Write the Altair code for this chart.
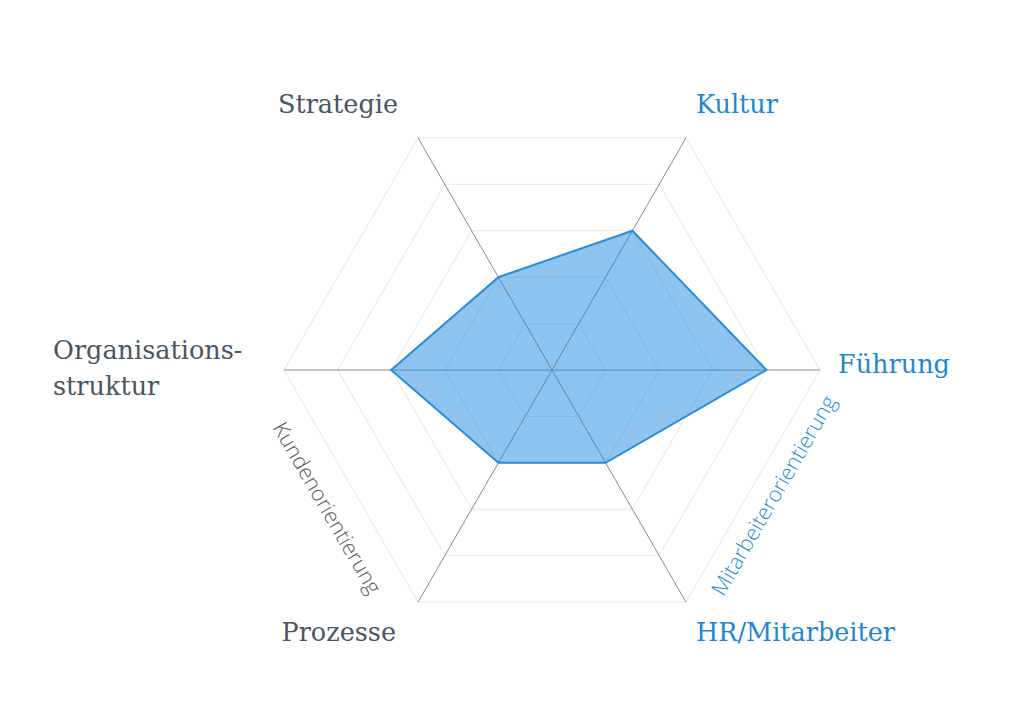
import altair as alt
import pandas as pd
import numpy as np

# ---- data ----
categories = ["Führung", "Kultur", "Strategie", "Organisations-\nstruktur", "Prozesse", "HR/Mitarbeiter"]
values = [4, 3, 2, 3, 2, 2]
angles_deg = [0, 60, 120, 180, 240, 300]
label_colors = ["#1e87cf", "#1e87cf", "#4a5661", "#4a5661", "#4a5661", "#1e87cf"]
grid_levels = [1, 2, 3, 4, 5]
max_value = 5
group_labels = ["Kundenorientierung", "Mitarbeiterorientierung"]
group_angles = [211.5, 330.5]
group_radius = [4.95, 4.78]
group_rot = [60, 300]
group_colors = ["#555d66", "#2a8fd6"]

# ---- geometry (scale) ----
PX = 53.6
W, H = 1000, 690
CX, CY = 544, 362
xdom = [-CX / PX, (W - CX) / PX]
ydom = [-(H - CY) / PX, CY / PX]
xs = alt.Scale(domain=xdom, nice=False, zero=False)
ys = alt.Scale(domain=ydom, nice=False, zero=False)
rad = np.radians(angles_deg)

grid = pd.DataFrame([
    {"level": lv, "i": i, "x": lv * np.cos(a), "y": lv * np.sin(a)}
    for lv in grid_levels for i, a in enumerate(rad)
])
spokes = pd.DataFrame({
    "x0": [0.0] * 6, "y0": [0.0] * 6,
    "x": max_value * np.cos(rad), "y": max_value * np.sin(rad),
})
poly = pd.DataFrame({
    "i": range(6),
    "x": np.array(values) * np.cos(rad),
    "y": np.array(values) * np.sin(rad),
})
lab = pd.DataFrame({
    "cat": categories,
    "x": max_value * np.cos(rad),
    "y": max_value * np.sin(rad),
    "color": label_colors,
})
ga = np.radians(group_angles)
grp = pd.DataFrame({
    "t": group_labels,
    "x": np.array(group_radius) * np.cos(ga),
    "y": np.array(group_radius) * np.sin(ga),
    "color": group_colors,
})

X = lambda f="x": alt.X(f, type="quantitative", scale=xs, axis=None)
Y = lambda f="y": alt.Y(f, type="quantitative", scale=ys, axis=None)

grid_layer = alt.Chart(grid).mark_line(
    interpolate="linear-closed", color="#e6e6e6", strokeWidth=1
).encode(x=X(), y=Y(), detail="level:N", order="i:Q")

spoke_layer = alt.Chart(spokes).mark_rule(color="#8a8a8a", strokeWidth=1).encode(
    x=X("x0"), y=Y("y0"), x2="x", y2="y"
)

poly_layer = alt.Chart(poly).mark_line(
    interpolate="linear-closed", fill="#1f8ae0", fillOpacity=0.5,
    stroke="#2a8cd8", strokeWidth=2, strokeJoin="miter"
).encode(x=X(), y=Y(), order="i:Q")

font_main = "DejaVu Serif"
fs_main = 25.5


def label_layer(cond, align, dx, dy, **kw):
    return alt.Chart(lab).transform_filter(cond).mark_text(
        font=font_main, fontSize=fs_main, align=align, baseline="alphabetic",
        dx=dx, dy=dy, **kw
    ).encode(x=X(), y=Y(), text="cat:N", color=alt.Color("color:N", scale=None))


layers_text = [
    label_layer("datum.cat == 'Kultur'", "left", 10, -25),
    label_layer("datum.cat == 'HR/Mitarbeiter'", "left", 10, 39),
    label_layer("datum.cat == 'Strategie'", "right", -20, -25),
    label_layer("datum.cat == 'Prozesse'", "right", -22, 39),
    label_layer("datum.cat == 'Führung'", "left", 18, 3),
    label_layer("indexof(datum.cat, 'Organisations') == 0", "left", -231, -11,
                lineBreak="\n", lineHeight=36),
]

grp_layers = []
for k in range(len(group_labels)):
    grp_layers.append(
        alt.Chart(grp.iloc[[k]]).mark_text(
            font="Open Sans", fontWeight=300, fontSize=21.5 if k == 1 else 21.5,
            angle=group_rot[k], align="center", baseline="middle"
        ).encode(x=X(), y=Y(), text="t:N", color=alt.Color("color:N", scale=None))
    )

chart = alt.layer(
    grid_layer, spoke_layer, poly_layer, *layers_text, *grp_layers
).properties(width=W, height=H, padding=0, autosize=alt.AutoSizeParams(type="none")
).configure_view(strokeWidth=0, stroke=None, fill=None)

chart.save("out.html", embed_options={"renderer": "svg", "actions": False})
